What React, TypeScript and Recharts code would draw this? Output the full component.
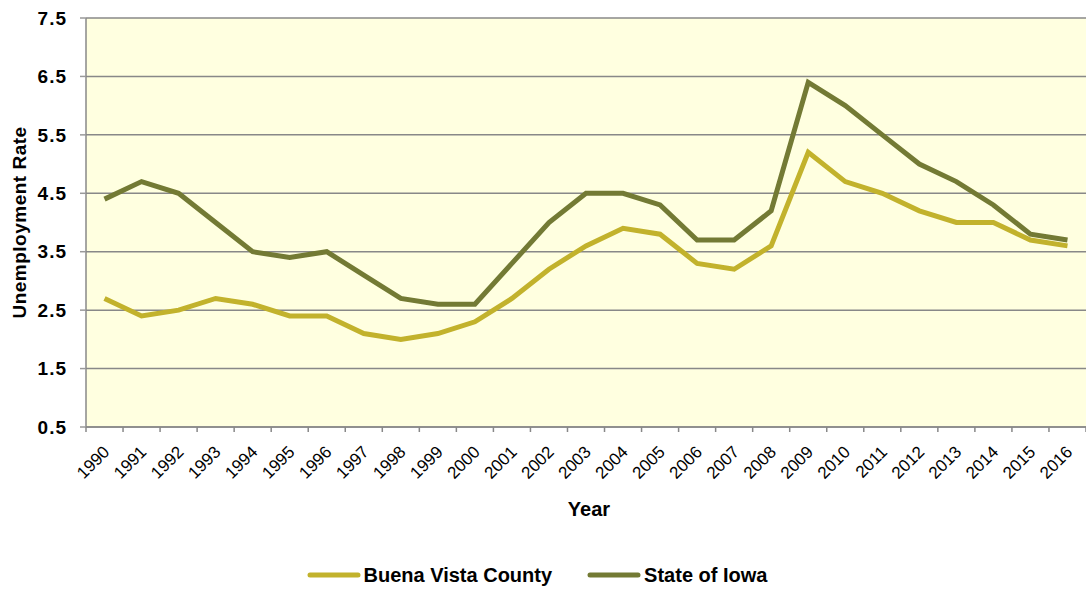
import React from "react";
import { LineChart, Line, XAxis, YAxis, CartesianGrid, Legend } from "recharts";

const years = [
  "1990", "1991", "1992", "1993", "1994", "1995", "1996", "1997", "1998", "1999", "2000", "2001", "2002",
  "2003", "2004", "2005", "2006", "2007", "2008", "2009", "2010", "2011", "2012", "2013", "2014", "2015", "2016",
];
const buenaVista = [2.7, 2.4, 2.5, 2.7, 2.6, 2.4, 2.4, 2.1, 2.0, 2.1, 2.3, 2.7, 3.2, 3.6, 3.9, 3.8, 3.3, 3.2, 3.6, 5.2, 4.7, 4.5, 4.2, 4.0, 4.0, 3.7, 3.6];
const iowa = [4.4, 4.7, 4.5, 4.0, 3.5, 3.4, 3.5, 3.1, 2.7, 2.6, 2.6, 3.3, 4.0, 4.5, 4.5, 4.3, 3.7, 3.7, 4.2, 6.4, 6.0, 5.5, 5.0, 4.7, 4.3, 3.8, 3.7];
const yTicks = [0.5, 1.5, 2.5, 3.5, 4.5, 5.5, 6.5, 7.5];

const data = years.map((y, i) => ({ year: y, bv: buenaVista[i], ia: iowa[i] }));

const W = 1086;
const H = 590;
const LEFT = 86;
const FONT = "'Liberation Sans', Arial, sans-serif";
const band = (W - LEFT) / years.length;
const BV_COLOR = "#C2B22C";
const IA_COLOR = "#737A34";

function YearTick(props: any) {
  const { x, y, payload, index } = props;
  const tx = x + 6;
  const ty = y + 26;
  return (
    <g>
      <line x1={x - band / 2} y1={y} x2={x - band / 2} y2={y + 5} stroke="#888" strokeWidth={1.5} />
      {index === years.length - 1 && (
        <line x1={x + band / 2} y1={y} x2={x + band / 2} y2={y + 5} stroke="#888" strokeWidth={1.5} />
      )}
      <text
        x={tx}
        y={ty}
        textAnchor="end"
        fontSize={17}
        fontFamily={FONT}
        fill="#000"
        transform={`rotate(-45 ${tx} ${ty})`}
      >
        {payload.value}
      </text>
    </g>
  );
}

function LegendBox() {
  const items = [
    { name: "Buena Vista County", color: BV_COLOR },
    { name: "State of Iowa", color: IA_COLOR },
  ];
  return (
    <div
      style={{
        height: 30,
        marginTop: 10,
        paddingRight: 12,
        display: "flex",
        alignItems: "center",
        justifyContent: "center",
        fontFamily: FONT,
        fontSize: 20,
        fontWeight: "bold",
        color: "#000",
      }}
    >
      {items.map((it, i) => (
        <div key={it.name} style={{ display: "flex", alignItems: "center", marginLeft: i > 0 ? 35 : 0 }}>
          <svg width={54} height={10} style={{ marginRight: 3 }}>
            <line x1={3} y1={5} x2={51} y2={5} stroke={it.color} strokeWidth={5} strokeLinecap="round" />
          </svg>
          <span>{it.name}</span>
        </div>
      ))}
    </div>
  );
}

export default function App() {
  return (
    <div style={{ position: "absolute", left: 0, top: 0, width: W, height: H, background: "#fff" }}>
      <LineChart width={W} height={H} data={data} margin={{ top: 18, right: 0, left: 0, bottom: 0 }}>
        <CartesianGrid horizontal vertical={false} stroke="#888" strokeWidth={1.5} fill="#FFFFE0" fillOpacity={1} />
        <XAxis
          dataKey="year"
          scale="band"
          interval={0}
          height={123}
          tickSize={0}
          tickMargin={0}
          tickLine={false}
          axisLine={{ stroke: "#888", strokeWidth: 1.5 }}
          tick={<YearTick />}
          label={{ value: "Year", position: "insideTop", offset: 75, dx: 3, fontSize: 20, fontWeight: "bold", fontFamily: FONT, fill: "#000" }}
        />
        <YAxis
          width={LEFT}
          domain={[0.5, 7.5]}
          ticks={yTicks}
          tickFormatter={(v: number) => v.toFixed(1)}
          tickSize={6}
          tickMargin={13}
          tickLine={{ stroke: "#999", strokeWidth: 1.5 }}
          axisLine={{ stroke: "#888", strokeWidth: 1.5 }}
          tick={{ fontSize: 19, fontWeight: "bold", fontFamily: FONT, fill: "#000", letterSpacing: 1 }}
          label={{ value: "Unemployment Rate", angle: -90, position: "insideLeft", offset: 19, fontSize: 19, fontWeight: "bold", fontFamily: FONT, fill: "#000", letterSpacing: 0.5, style: { textAnchor: "middle" } }}
        />
        <Legend verticalAlign="bottom" height={40} content={() => <LegendBox />} />
        <Line
          type="linear"
          dataKey="bv"
          name="Buena Vista County"
          stroke={BV_COLOR}
          strokeWidth={5}
          dot={false}
          isAnimationActive={false}
        />
        <Line
          type="linear"
          dataKey="ia"
          name="State of Iowa"
          stroke={IA_COLOR}
          strokeWidth={5}
          dot={false}
          isAnimationActive={false}
        />
      </LineChart>
    </div>
  );
}
